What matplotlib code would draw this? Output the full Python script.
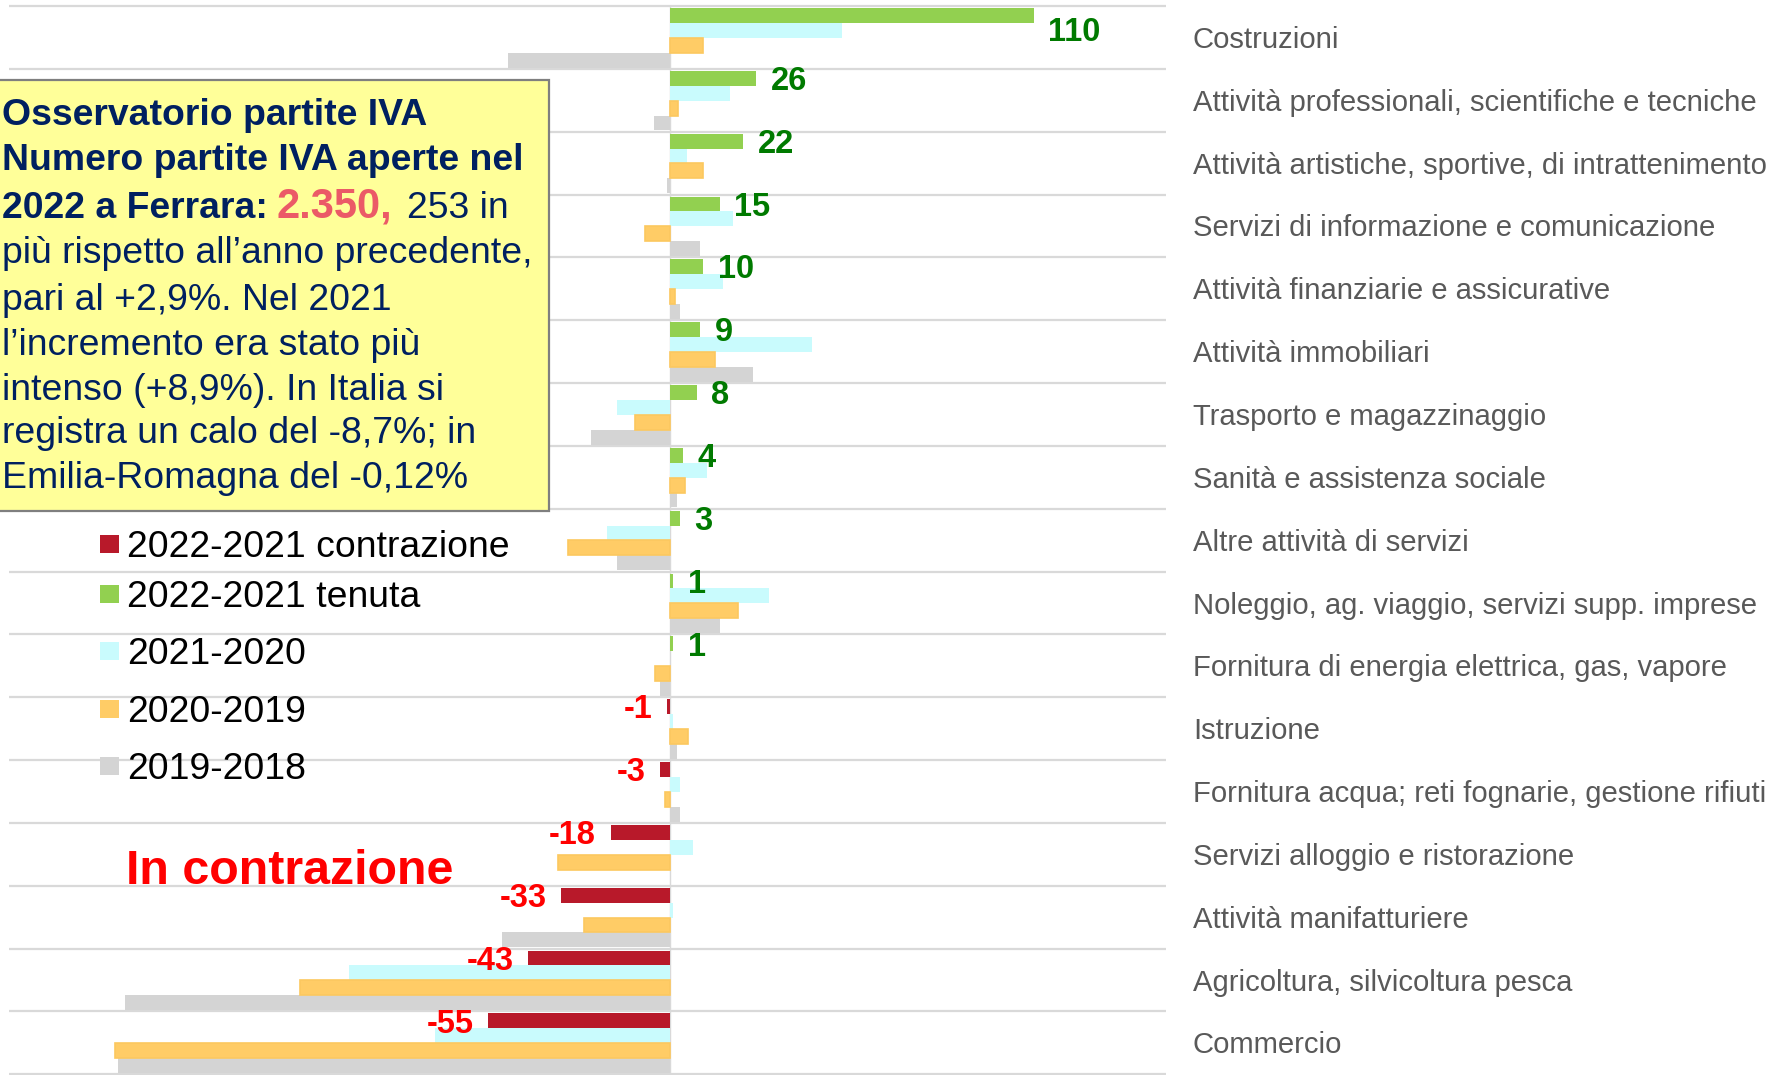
import numpy as np
import matplotlib
matplotlib.use("Agg")
import matplotlib.pyplot as plt
from matplotlib.patches import Rectangle
from matplotlib.transforms import blended_transform_factory

plt.rcParams['font.family'] = ['Liberation Sans', 'DejaVu Sans']

categories = [
    "Costruzioni",
    "Attività professionali, scientifiche e tecniche",
    "Attività artistiche, sportive, di intrattenimento",
    "Servizi di informazione e comunicazione",
    "Attività finanziarie e assicurative",
    "Attività immobiliari",
    "Trasporto e magazzinaggio",
    "Sanità e assistenza sociale",
    "Altre attività di servizi",
    "Noleggio, ag. viaggio, servizi supp. imprese",
    "Fornitura di energia elettrica, gas, vapore",
    "Istruzione",
    "Fornitura acqua; reti fognarie, gestione rifiuti",
    "Servizi alloggio e ristorazione",
    "Attività manifatturiere",
    "Agricoltura, silvicoltura pesca",
    "Commercio",
]
d2022 = [110, 26, 22, 15, 10, 9, 8, 4, 3, 1, 1, -1, -3, -18, -33, -43, -55]
d2021 = [52, 18, 5, 19, 16, 43, -16, 11, -19, 30, 0, 1, 3, 7, 1, -97, -71]
d2020 = [10, 2.5, 10, -7.5, 1.5, 13.5, -10.5, 4.5, -31, 20.5, -4.5, 5.5, -1.5, -34, -26, -112, -168]
d2019 = [-49, -5, -1, 9, 3, 25, -24, 2, -16, 15, -3, 2, 3, 0, -51, -165, -167]

legend_labels = ["2022-2021 contrazione", "2022-2021 tenuta", "2021-2020", "2020-2019", "2019-2018"]

RED = "#B8192A"
GREEN = "#92D050"
CYAN = "#C9FBFD"
ORANGE = "#FFCC66"
GRAY = "#D4D4D4"
NAVY = "#002060"

W, H = 1787, 1075
fig = plt.figure(figsize=(W / 100, H / 100), dpi=100)
top_px, bot_px = 6, 1074.3
ax = fig.add_axes([9 / W, 1 - bot_px / H, (1166 - 9) / W, (bot_px - top_px) / H])
ax.set_xlim(-200, 150)
ax.set_ylim(len(categories), 0)
ax.axis("off")

n = len(categories)
y = np.arange(n)
h = 0.237
c2022 = [GREEN if v >= 0 else RED for v in d2022]

ax.hlines(np.arange(n + 1), -200, 150, color="#D9D9D9", lw=1.6, zorder=1, clip_on=False)
ax.axvline(0, color="#D9D9D9", lw=1, zorder=1)

ax.barh(y + 0.15, d2022, height=h, color=c2022, zorder=2)
ax.barh(y + 0.15 + h, d2021, height=h, color=CYAN, zorder=2)
ax.barh(y + 0.15 + 2 * h, d2020, height=h, color=ORANGE, edgecolor="#FCC85F", lw=1.2, zorder=3)
ax.barh(y + 0.15 + 3 * h, d2019, height=h, color=GRAY, zorder=2)

# etichette valori
lfs = 23.5
for i, v in enumerate(d2022):
    yc = i + 0.15
    if v == max(d2022):
        yc = i + 0.15 + h / 2 + 0.1
    if v >= 0:
        ax.annotate(str(v), (v, yc), xytext=(10.5, -8.4), textcoords="offset points",
                    ha="left", va="baseline", fontsize=lfs, fontweight="bold", color="#007A00", zorder=6)
    else:
        ax.annotate(str(v), (v, yc), xytext=(-10.5, -8.4), textcoords="offset points",
                    ha="right", va="baseline", fontsize=lfs, fontweight="bold", color="#FF0000", zorder=6)

# categorie a destra
tr = blended_transform_factory(fig.transFigure, ax.transData)
for i, name in enumerate(categories):
    ax.annotate(name, (1193 / W, i + 0.5), xycoords=tr, xytext=(0, -7.6), textcoords="offset points",
                ha="left", va="baseline", fontsize=21.1, color="#595959", annotation_clip=False)

# riquadro giallo
box = Rectangle((-0.01, 1 - 511 / H), (549 / W) + 0.01, (511 - 80) / H, transform=fig.transFigure,
                facecolor="#FFFF99", edgecolor="#7F7F7F", lw=1.6, zorder=5, clip_on=False)
ax.add_patch(box)

fs = 26.9
tx = 2 / W
bold_lines = [("Osservatorio partite IVA", 125), ("Numero partite IVA aperte nel", 170)]
for s, b in bold_lines:
    fig.text(tx, 1 - b / H, s, fontsize=fs, fontweight="bold", color=NAVY, va="baseline", zorder=6)

fig.text(tx, 1 - 218 / H, "2022 a Ferrara: ", fontsize=fs, fontweight="bold", color=NAVY,
         va="baseline", zorder=6)
fig.text(277 / W, 1 - 218 / H, "2.350,", fontsize=30, fontweight="bold", color="#EB5A67",
         va="baseline", zorder=6)
fig.text(407 / W, 1 - 218 / H, "253 in", fontsize=fs, color=NAVY, va="baseline", zorder=6)

reg_lines = [
    ("più rispetto all’anno precedente,", 263),
    ("pari al +2,9%. Nel 2021", 310),
    ("l’incremento era stato più", 355),
    ("intenso (+8,9%). In Italia si", 400),
    ("registra un calo del -8,7%; in", 443),
    ("Emilia-Romagna del -0,12%", 488),
]
for s, b in reg_lines:
    fig.text(tx, 1 - b / H, s, fontsize=fs, color=NAVY, va="baseline", zorder=6)

# legenda
leg_colors = [RED, GREEN, CYAN, ORANGE, GRAY]
leg_base = [556.7, 607, 664, 721.7, 779]
for lab, col, b in zip(legend_labels, leg_colors, leg_base):
    yc = b - 13
    fig.patches.append(Rectangle((100 / W, 1 - (yc + 9) / H), 19 / W, 18 / H,
                                 transform=fig.transFigure, facecolor=col, edgecolor="none", zorder=6))
    fig.text(127 / W, 1 - b / H, lab, fontsize=fs, color="black", va="baseline", zorder=6)

fig.text(126 / W, 1 - 884 / H, "In contrazione", fontsize=34.8, fontweight="bold", color="#FF0000",
         va="baseline", zorder=6)

fig.savefig("out.png", dpi=100, facecolor="white")
